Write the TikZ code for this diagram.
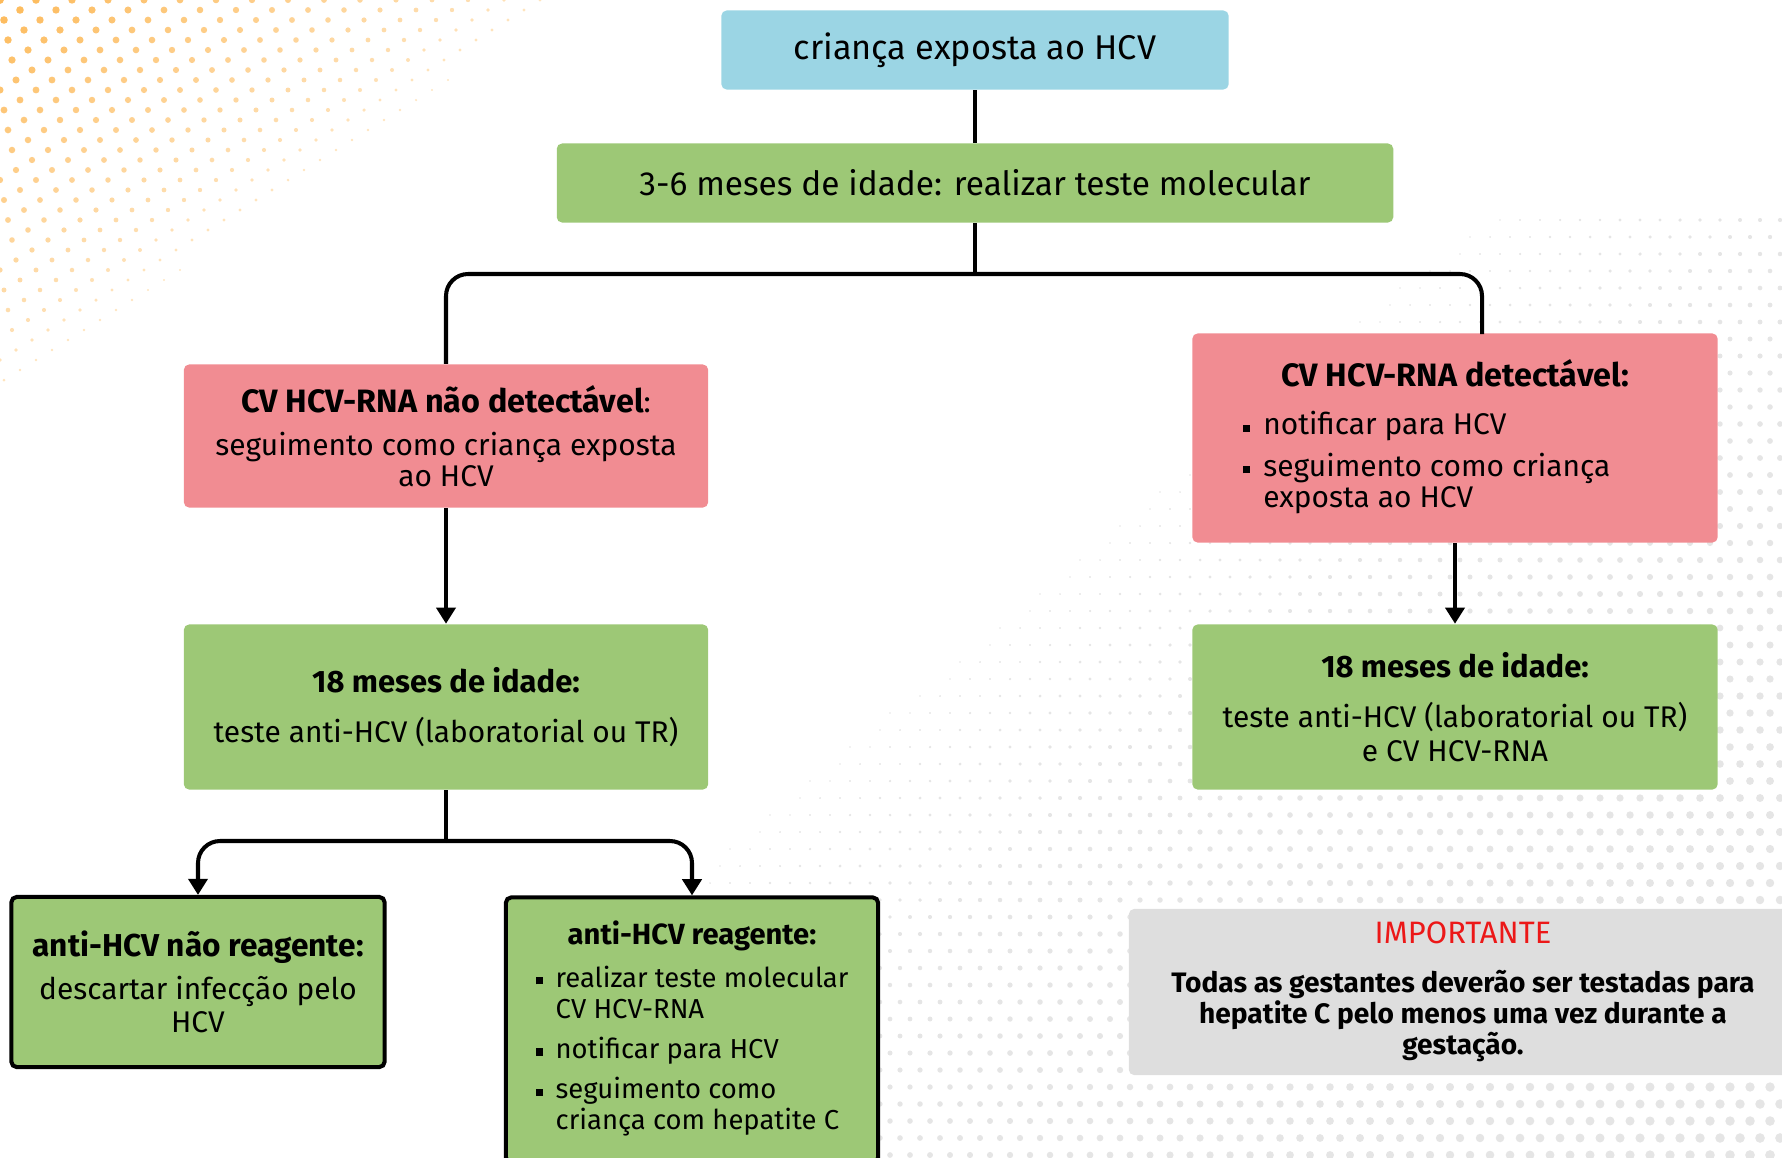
\documentclass[tikz,border=0pt]{standalone}
\usepackage{fontspec}
\setmainfont{Fira Sans}
\usetikzlibrary{arrows.meta}
\definecolor{azul}{RGB}{155,213,228}
\definecolor{verde}{RGB}{157,200,118}
\definecolor{rosa}{RGB}{241,140,146}
\definecolor{cinza}{RGB}{222,222,222}
\definecolor{laranja}{RGB}{253,186,90}
\definecolor{pontocinza}{RGB}{229,229,229}
\definecolor{vermelho}{RGB}{236,24,24}
\newcommand\qd{\rule[0.9pt]{2pt}{2pt}}
\newcommand\titulo[2]{{\fontsize{#1}{8.8}\selectfont\bfseries #2}}

\begin{document}
\begin{tikzpicture}[x=0.01cm, y=-0.01cm,
  caixa/.style={rounded corners=1.5pt, inner sep=0pt, align=center,
    font=\fontsize{8.5}{8.8}\selectfont},
  liga/.style={line width=1.15pt},
  seta/.style={liga, -{Triangle[length=4.6pt,width=5.4pt]}}]

  \path[use as bounding box] (0,0) rectangle (1782,1157);
  \clip (0,0) rectangle (1782,1157);

  % pontos laranja (canto superior esquerdo)
  \foreach \j in {0,...,40}
    \foreach \i in {0,...,16} {
      \pgfmathsetmacro\px{\i*36+mod(20*\j,36)}
      \pgfmathsetmacro\py{\j*10}
      \pgfmathsetmacro\t{\px/580+\py/410}
      \ifdim\t pt<0.97pt
        \pgfmathsetmacro\r{1.1*(1-\t)^0.35}
        \pgfmathsetmacro\op{1-0.65*\t}
        \fill[laranja, fill opacity=\op] (\px,\py) circle[radius=\r pt];
      \fi
    }
  % pontos cinza (canto inferior direito)
  \foreach \j in {0,...,55}
    \foreach \i in {0,...,56} {
      \pgfmathsetmacro\px{680+\i*20+mod(\j,2)*10}
      \pgfmathsetmacro\py{220+\j*17}
      \pgfmathsetmacro\t{(1782-\px)/1500+(1157-\py)/1250}
      \ifdim\t pt<0.95pt
        \pgfmathsetmacro\r{1.4*(1-\t)^0.6}
        \fill[pontocinza] (\px,\py) circle[radius=\r pt];
      \fi
    }

  % caixas
  \node[caixa, fill=azul, minimum width=5.07cm, minimum height=0.79cm,
    font=\fontsize{9.75}{11}\selectfont] (exposta) at (975,50) {criança exposta ao HCV};
  \node[caixa, fill=verde, minimum width=8.36cm, minimum height=0.79cm,
    font=\fontsize{9.5}{11}\selectfont] (molecular) at (975,183) {3-6 meses de idade: realizar teste molecular};

  \node[caixa, fill=rosa, minimum width=5.24cm, minimum height=1.43cm] (naodet) at (446,436)
    {\titulo{9.2}{CV HCV-RNA não detectável}:\\[3.6pt]
     seguimento como criança exposta\\ ao HCV};
  \node[caixa, fill=rosa, minimum width=5.25cm, minimum height=2.09cm] (detect) at (1455,438)
    {\titulo{9.2}{CV HCV-RNA detectável:}\\[5pt]
     \begin{tabular}[t]{@{}l@{\hspace{3.7pt}}l@{\hspace{16pt}}}
       \qd & notificar para HCV\\[2.6pt]
       \qd & seguimento como criança\\
           & exposta ao HCV
     \end{tabular}};

  \node[caixa, fill=verde, minimum width=5.24cm, minimum height=1.65cm] (dezoitoA) at (446,707)
    {\titulo{8.8}{18 meses de idade:}\\[5.2pt]
     teste anti-HCV (laboratorial ou TR)};
  \node[caixa, fill=verde, minimum width=5.25cm, minimum height=1.65cm] (dezoitoB) at (1455,707)
    {\titulo{8.8}{18 meses de idade:}\\[5.5pt]
     teste anti-HCV (laboratorial ou TR)\\[0.6pt] e CV HCV-RNA};

  \node[caixa, fill=verde, draw=black, line width=1.15pt, minimum width=3.73cm,
    minimum height=1.70cm] (naoreag) at (198,982)
    {\titulo{9}{anti-HCV não reagente:}\\[3.5pt]
     descartar infecção pelo\\[0.6pt] HCV};
  \node[caixa, fill=verde, draw=black, line width=1.15pt, minimum width=3.72cm,
    minimum height=2.65cm, font=\fontsize{7.8}{8.8}\selectfont] (reag) at (692,1030)
    {\titulo{8.3}{anti-HCV reagente:}\\[3.4pt]
     \begin{tabular}[t]{@{}l@{\hspace{3.7pt}}l@{}}
       \qd & realizar teste molecular\\
           & CV HCV-RNA\\[2.6pt]
       \qd & notificar para HCV\\[2.6pt]
       \qd & seguimento como\\
           & criança com hepatite C
     \end{tabular}};

  \node[caixa, fill=cinza, minimum width=6.68cm, minimum height=1.66cm,
    font=\fontsize{8}{8.8}\selectfont] (aviso) at (1463,992)
    {{\fontsize{8.8}{8.8}\selectfont\color{vermelho}IMPORTANTE}\\[5pt]
     \textbf{Todas as gestantes deverão ser testadas para}\\
     \textbf{hepatite C pelo menos uma vez durante a}\\
     \textbf{gestação.}};

  % ligacoes
  \coordinate (ramo) at (975,274);
  \coordinate (desce) at (1482,334);
  \coordinate (ramo2) at (446,841);
  \draw[liga] (exposta) -- (molecular);
  \draw[liga] (molecular) -- (ramo);
  \draw[liga, rounded corners=0.22cm] (naodet.north) |- (ramo) -| (desce);
  \draw[seta] (naodet) -- (dezoitoA);
  \draw[seta] (detect) -- (dezoitoB);
  \draw[liga] (dezoitoA) -- (ramo2);
  \draw[seta, rounded corners=0.22cm] (ramo2) -| (naoreag.north);
  \draw[seta, rounded corners=0.22cm] (ramo2) -| (reag.north);
\end{tikzpicture}
\end{document}
